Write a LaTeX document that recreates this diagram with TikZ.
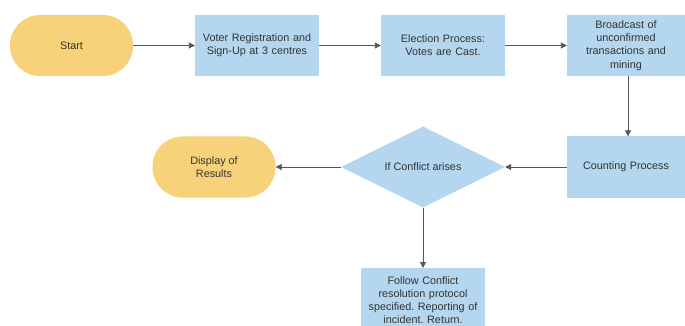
\documentclass[tikz,border=0pt]{standalone}
\usepackage{fontspec}
\setmainfont{Liberation Sans}
\usetikzlibrary{arrows.meta,shapes.geometric}
\definecolor{boxblue}{HTML}{B4D6EE}
\definecolor{pillyellow}{HTML}{F7D27B}
\definecolor{linegray}{HTML}{555555}
\definecolor{txt}{HTML}{333333}
\frenchspacing
\tikzset{
  base/.style={font=\fontsize{10.8}{13.2}\selectfont, text=txt, align=center, inner sep=0pt},
  procbox/.style={base, fill=boxblue, minimum width=124pt, minimum height=61pt, text width=120pt},
  pill/.style={base, fill=pillyellow, rounded corners=30pt, minimum width=123pt, minimum height=61pt},
  decision/.style={base, fill=boxblue, diamond, minimum width=164pt, minimum height=81pt, aspect=2.02},
  conn/.style={draw=linegray, line width=0.9pt, -{Triangle[length=6pt,width=6pt]}},
}
\begin{document}
\begin{tikzpicture}[x=1pt,y=-1pt]
\useasboundingbox (0,0) rectangle (685,326);
\clip (0,0) rectangle (685,326);
\fill[white] (0,0) rectangle (685,326);
\node[pill] (start) at (71.5,45.5) {Start};
\node[procbox] (voter) at (257,45.5) {Voter Registration and\\Sign-Up at 3 centres};
\node[procbox] (elect) at (443,45.5) {Election Process:\\Votes are Cast.};
\node[procbox, minimum width=118pt, text width=114pt] (bcast) at (626,45.5) {Broadcast of\\unconfirmed\\transactions and\\mining};
\node[procbox, minimum width=118pt, text width=114pt] (count) at (626,167) {Counting Process};
\node[decision] (conf) at (423,167) {If Conflict arises};
\node[pill] (disp) at (214,167) {Display of\\Results};
\node[procbox, minimum height=64pt, anchor=north] (follow) at (423,268) {Follow Conflict\\resolution protocol\\specified. Reporting of\\incident. Return.};
\draw[conn] (start) -- (voter);
\draw[conn] (voter) -- (elect);
\draw[conn] (elect) -- (bcast);
\draw[conn] (bcast.south -| 628,0) -- (count.north -| 628,0);
\draw[conn] (count) -- (conf);
\draw[conn] (conf) -- (disp);
\draw[conn] (conf.south) -- (follow.north);
\end{tikzpicture}
\end{document}
